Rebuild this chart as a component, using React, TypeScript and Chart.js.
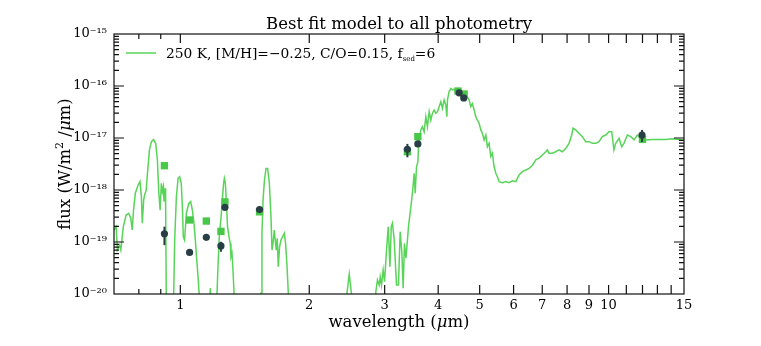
import React, { useEffect, useRef } from 'react';
import { Chart, registerables } from 'chart.js';
Chart.register(...registerables);

// Model spectrum (wavelength in µm, flux in W/m²/µm)
const modelWave = [
  0.700, 0.708, 0.713, 0.721, 0.726, 0.736, 0.747, 0.758, 0.766, 0.772, 0.777, 0.785, 0.797, 0.805, 0.811, 0.815,
  0.821, 0.825, 0.832, 0.838, 0.847, 0.856, 0.866, 0.876, 0.884, 0.890, 0.897, 0.903, 0.908, 0.913, 0.916, 0.921,
  0.924, 0.931, 0.945, 0.960, 0.970, 0.979, 0.988, 0.996, 1.005, 1.011, 1.016, 1.023, 1.033, 1.046, 1.057, 1.067,
  1.076, 1.084, 1.091, 1.100, 1.106, 1.115, 1.160, 1.169, 1.175, 1.181, 1.200, 1.210, 1.218, 1.226, 1.233, 1.245,
  1.253, 1.262, 1.267, 1.274, 1.280, 1.289, 1.299, 1.308, 1.313, 1.320, 1.327, 1.335, 1.345, 1.530, 1.543, 1.551,
  1.560, 1.572, 1.585, 1.599, 1.614, 1.628, 1.637, 1.646, 1.657, 1.666, 1.675, 1.684, 1.693, 1.705, 1.718, 1.733,
  1.749, 1.761, 1.775, 1.787, 1.802, 2.413, 2.448, 2.480, 2.510, 2.547, 2.836, 2.861, 2.886, 2.913, 2.929, 2.949,
  2.976, 2.998, 3.030, 3.058, 3.086, 3.108, 3.129, 3.158, 3.197, 3.231, 3.261, 3.291, 3.314, 3.337, 3.363, 3.391,
  3.410, 3.454, 3.483, 3.516, 3.535, 3.560, 3.587, 3.598, 3.611, 3.644, 3.675, 3.709, 3.743, 3.776, 3.811, 3.845,
  3.879, 3.914, 3.950, 3.984, 4.021, 4.058, 4.093, 4.130, 4.168, 4.191, 4.205, 4.243, 4.282, 4.319, 4.359, 4.399,
  4.436, 4.517, 4.598, 4.680, 4.723, 4.766, 4.808, 4.853, 4.897, 4.940, 4.985, 5.031, 5.074, 5.121, 5.168, 5.212,
  5.260, 5.308, 5.355, 5.403, 5.453, 5.500, 5.551, 5.649, 5.754, 5.857, 5.962, 6.071, 6.180, 6.291, 6.407, 6.522,
  6.639, 6.761, 6.882, 7.005, 7.134, 7.194, 7.259, 7.390, 7.525, 7.660, 7.798, 7.941, 8.084, 8.202, 8.259, 8.380,
  8.530, 8.683, 8.843, 9.002, 9.163, 9.331, 9.498, 9.668, 9.845, 10.02, 10.17, 10.29, 10.39, 10.58, 10.73, 10.86,
  11.06, 11.27, 11.47, 11.67, 11.89, 12.21, 12.65, 13.11, 13.59, 14.08, 14.60, 15.13,
];
const modelFlux = [
  1.70e-19, 1.97e-19, 7.0e-20, 8.7e-20, 7.0e-20, 1.97e-19, 3.3e-19, 3.56e-19, 2.86e-19, 1.70e-19, 3.83e-19, 8.65e-19, 1.25e-18, 1.45e-18, 7.4e-19, 2.3e-19,
  6.4e-19, 8.0e-19, 9.7e-19, 2.1e-18, 5.9e-18, 8.5e-18, 9.4e-18, 7.9e-18, 3.8e-18, 1.0e-18, 4.1e-19, 1.35e-18, 9.3e-19, 1.16e-18, 6.0e-19, 1.08e-18,
  4.8e-19, 1e-22, 1e-22, 1e-21, 1.09e-19, 7.4e-19, 1.68e-18, 1.8e-18, 1.35e-18, 4.8e-19, 1.26e-19, 1.09e-19, 3.56e-19, 5.5e-19, 6.0e-19, 4.1e-19,
  2.3e-19, 1.09e-19, 5.2e-20, 2.15e-20, 1.05e-20, 1e-22, 1e-22, 5e-21, 1.3e-20, 5e-21, 1e-22, 1e-21, 1.04e-20, 4.5e-20, 1.26e-19, 3.07e-19,
  6.4e-19, 1.35e-18, 1.68e-18, 1.35e-18, 6.4e-19, 1.97e-19, 1.26e-19, 9.4e-20, 5.2e-20, 6.1e-20, 2.9e-20, 1.04e-20, 1e-22, 1e-22, 1.04e-20, 1.47e-19,
  6.4e-19, 1.56e-18, 2.6e-18, 2.6e-18, 1.35e-18, 3.07e-19, 7.0e-20, 9.4e-20, 1.70e-19, 1.09e-19, 7.0e-20, 1.18e-19, 3.35e-20, 8.1e-20, 1.09e-19, 1.26e-19,
  1.47e-19, 9.4e-20, 3.35e-20, 1.04e-20, 1e-22, 1e-22, 1.0e-20, 2.4e-20, 1.0e-20, 1e-22, 1e-22, 1.1e-20, 1.86e-20, 1.49e-20, 2.15e-20, 1.49e-20,
  2.9e-20, 1.73e-20, 7.0e-20, 1.97e-19, 3.35e-20, 1.97e-19, 2.3e-19, 1.09e-19, 1.49e-20, 1.49e-20, 1.58e-19, 6.1e-20, 1.29e-20, 9.4e-20, 4.9e-20, 1.09e-19,
  1.97e-19, 4.8e-19, 8.65e-19, 2.1e-18, 8.65e-19, 2.8e-18, 3.5e-18, 6.8e-18, 9.2e-18, 1.43e-17, 1.65e-17, 1.32e-17, 2.57e-17, 1.65e-17, 3.2e-17, 2.2e-17,
  3.0e-17, 3.45e-17, 3.0e-17, 3.2e-17, 4.0e-17, 5.0e-17, 3.7e-17, 5.4e-17, 4.3e-17, 2.57e-17, 5.4e-17, 7.8e-17, 9.0e-17, 8.4e-17, 8.65e-17, 7.8e-17,
  7.2e-17, 7.2e-17, 6.7e-17, 6.2e-17, 5.4e-17, 4.0e-17, 4.6e-17, 3.45e-17, 2.57e-17, 2.2e-17, 1.92e-17, 1.43e-17, 1.23e-17, 9.2e-18, 1.14e-17, 6.8e-18,
  7.9e-18, 4.4e-18, 5.1e-18, 2.8e-18, 2.1e-18, 1.8e-18, 1.45e-18, 1.38e-18, 1.45e-18, 1.38e-18, 1.51e-18, 1.45e-18, 1.94e-18, 2.25e-18, 2.43e-18, 2.6e-18,
  3.0e-18, 3.8e-18, 4.1e-18, 4.7e-18, 5.45e-18, 5.9e-18, 5.1e-18, 5.1e-18, 5.45e-18, 5.9e-18, 5.45e-18, 6.3e-18, 7.9e-18, 1.14e-17, 1.54e-17, 1.43e-17,
  1.23e-17, 1.06e-17, 8.5e-18, 8.5e-18, 7.9e-18, 7.9e-18, 8.5e-18, 1.06e-17, 1.14e-17, 1.32e-17, 1.32e-17, 5.9e-18, 7.9e-18, 9.9e-18, 6.8e-18, 7.9e-18,
  1.14e-17, 1.06e-17, 9.2e-18, 1.14e-17, 9.9e-18, 9.2e-18, 9.4e-18, 9.4e-18, 9.4e-18, 9.7e-18, 9.4e-18, 8.9e-18,
];

// Model photometry (green squares)
const synthWave = [0.918, 1.051, 1.150, 1.244, 1.271, 1.531, 3.39, 3.586, 4.45, 4.60, 12.0];
const synthFlux = [2.93e-18, 2.65e-19, 2.53e-19, 1.6e-19, 5.9e-19, 3.8e-19, 5.45e-18, 1.06e-17, 8.0e-17, 7.0e-17, 9.4e-18];

// Observed photometry (dark circles with error bars)
const obsWave = [0.918, 1.051, 1.150, 1.244, 1.271, 1.531, 3.39, 3.586, 4.477, 4.59, 11.97];
const obsFlux = [1.44e-19, 6.3e-20, 1.23e-19, 8.4e-20, 4.65e-19, 4.2e-19, 6.05e-18, 7.7e-18, 7.4e-17, 5.9e-17, 1.14e-17];
const obsErrLow = [8.7e-20, 6.0e-20, 1.18e-19, 6.5e-20, 4.5e-19, 4.05e-19, 4.25e-18, 7.4e-18, 7.2e-17, 5.7e-17, 8.4e-18];
const obsErrHigh = [1.97e-19, 6.6e-20, 1.28e-19, 1.01e-19, 4.8e-19, 4.35e-19, 7.7e-18, 8.0e-18, 7.6e-17, 6.1e-17, 1.43e-17];

// Axis ticks
const xTickValues = [0.7, 0.8, 0.9, 1, 2, 3, 4, 5, 6, 7, 8, 9, 10, 11, 12, 13, 14, 15];
const xTickLabels = ['', '', '', '1', '2', '3', '4', '5', '6', '7', '8', '9', '10', '', '', '', '', '15'];
const yTickValues = [1e-20, 1e-19, 1e-18, 1e-17, 1e-16, 1e-15];
const yTickLabels = ['10⁻²⁰', '10⁻¹⁹', '10⁻¹⁸', '10⁻¹⁷', '10⁻¹⁶', '10⁻¹⁵'];

const titleText = 'Best fit model to all photometry';
const legendMain = '250 K, [M/H]=\u22120.25, C/O=0.15, f';
const legendSub = 'sed';
const legendEnd = '=6';

const LINE_GREEN = 'rgb(88,212,88)';
const SQUARE_GREEN = 'rgb(72,200,72)';
const DARK = '#283f45';
const SERIF = '"DejaVu Serif", serif';

const decor = {
  id: 'decor',
  afterDatasetsDraw(chart: any) {
    const ctx = chart.ctx;
    const xs = chart.scales.x;
    const ys = chart.scales.y;
    ctx.save();
    ctx.strokeStyle = DARK;
    ctx.lineWidth = 2;
    for (let i = 0; i < obsWave.length; i++) {
      const x = xs.getPixelForValue(obsWave[i]);
      ctx.beginPath();
      ctx.moveTo(x, ys.getPixelForValue(obsErrHigh[i]));
      ctx.lineTo(x, ys.getPixelForValue(obsErrLow[i]));
      ctx.stroke();
    }
    ctx.restore();
  },
  afterDraw(chart: any) {
    const ctx = chart.ctx;
    const xs = chart.scales.x;
    const ys = chart.scales.y;
    const { left, right, top, bottom } = chart.chartArea;
    ctx.save();
    // frame
    ctx.strokeStyle = '#111';
    ctx.lineWidth = 1.2;
    ctx.strokeRect(left, top, right - left, bottom - top);
    // x ticks
    for (const v of xTickValues) {
      const x = xs.getPixelForValue(v);
      if (x <= left + 1 || x >= right - 1) continue;
      const len = v < 1 ? 5 : 9;
      ctx.beginPath();
      ctx.moveTo(x, bottom); ctx.lineTo(x, bottom - len);
      ctx.moveTo(x, top); ctx.lineTo(x, top + len);
      ctx.stroke();
    }
    // y ticks
    for (let d = -20; d <= -15; d++) {
      for (let m = 1; m <= 9; m++) {
        const v = m * Math.pow(10, d);
        if (v > 1.0001e-15) break;
        const y = ys.getPixelForValue(v);
        const len = m === 1 ? 10 : 5;
        if (y <= top + 0.5 || y >= bottom - 0.5) continue;
        ctx.beginPath();
        ctx.moveTo(left, y); ctx.lineTo(left + len, y);
        ctx.moveTo(right, y); ctx.lineTo(right - len, y);
        ctx.stroke();
      }
    }
    // title
    ctx.fillStyle = '#000';
    ctx.font = '16.5px ' + SERIF;
    ctx.textAlign = 'center';
    ctx.textBaseline = 'alphabetic';
    ctx.fillText(titleText, (left + right) / 2, 29);
    // x label
    const cx = (left + right) / 2;
    const f1 = '16.5px ' + SERIF;
    const fi = 'italic 16.5px ' + SERIF;
    ctx.textAlign = 'left';
    ctx.font = f1; const wA = ctx.measureText('wavelength (').width;
    ctx.font = fi; const wB = ctx.measureText('\u03bc').width;
    ctx.font = f1; const wC = ctx.measureText('m)').width;
    let sx = cx - (wA + wB + wC) / 2;
    const by = 327;
    ctx.font = f1; ctx.fillText('wavelength (', sx, by); sx += wA;
    ctx.font = fi; ctx.fillText('\u03bc', sx, by); sx += wB;
    ctx.font = f1; ctx.fillText('m)', sx, by);
    // y label (rotated)
    ctx.save();
    ctx.translate(70, (top + bottom) / 2);
    ctx.rotate(-Math.PI / 2);
    const fs = '11px ' + SERIF;
    ctx.font = f1; const p1 = ctx.measureText('flux (W/m').width;
    ctx.font = fs; const p2 = ctx.measureText('2').width;
    ctx.font = f1; const p3 = ctx.measureText(' /').width;
    ctx.font = fi; const p4 = ctx.measureText('\u03bc').width;
    ctx.font = f1; const p5 = ctx.measureText('m)').width;
    let tx = -(p1 + p2 + p3 + p4 + p5) / 2;
    ctx.font = f1; ctx.fillText('flux (W/m', tx, 0); tx += p1;
    ctx.font = fs; ctx.fillText('2', tx, -7); tx += p2;
    ctx.font = f1; ctx.fillText(' /', tx, 0); tx += p3;
    ctx.font = fi; ctx.fillText('\u03bc', tx, 0); tx += p4;
    ctx.font = f1; ctx.fillText('m)', tx, 0);
    ctx.restore();
    // legend
    ctx.strokeStyle = LINE_GREEN;
    ctx.lineWidth = 1.5;
    ctx.beginPath();
    ctx.moveTo(126, 53); ctx.lineTo(156, 53);
    ctx.stroke();
    ctx.fillStyle = '#000';
    ctx.textAlign = 'left';
    ctx.font = '13.8px ' + SERIF;
    let lx = 166;
    ctx.fillText(legendMain, lx, 58);
    lx += ctx.measureText(legendMain).width;
    ctx.font = '7px ' + SERIF;
    ctx.fillText(legendSub, lx, 61);
    lx += ctx.measureText(legendSub).width;
    ctx.font = '13.8px ' + SERIF;
    ctx.fillText(legendEnd, lx, 58);
    ctx.restore();
  },
};

export default function App() {
  const ref = useRef<HTMLCanvasElement | null>(null);
  useEffect(() => {
    if (!ref.current) return;
    const chart = new Chart(ref.current, {
      type: 'scatter',
      data: {
        datasets: [
          {
            label: 'observed',
            data: obsWave.map((w, i) => ({ x: w, y: obsFlux[i] })),
            pointStyle: 'circle',
            pointRadius: 3.6,
            backgroundColor: DARK,
            borderColor: DARK,
            borderWidth: 0,
          },
          {
            label: 'model photometry',
            data: synthWave.map((w, i) => ({ x: w, y: synthFlux[i] })),
            pointStyle: 'rect',
            pointRadius: 5.2,
            backgroundColor: SQUARE_GREEN,
            borderColor: SQUARE_GREEN,
            borderWidth: 0,
          },
          {
            label: '250 K model',
            data: modelWave.map((w, i) => ({ x: w, y: modelFlux[i] })),
            showLine: true,
            pointRadius: 0,
            borderColor: LINE_GREEN,
            borderWidth: 1.5,
            backgroundColor: LINE_GREEN,
            tension: 0,
          },
        ],
      },
      options: {
        animation: false,
        responsive: false,
        devicePixelRatio: 1,
        layout: { padding: { left: 0, right: 77, top: 34, bottom: 0 } },
        plugins: { legend: { display: false }, tooltip: { enabled: false }, title: { display: false } },
        scales: {
          x: {
            type: 'logarithmic',
            min: 0.7,
            max: 15,
            grid: { display: false, drawTicks: false },
            border: { display: false },
            afterBuildTicks: (scale: any) => {
              scale.ticks = xTickValues.map((v) => ({ value: v }));
            },
            afterFit: (scale: any) => {
              scale.height = 52;
            },
            ticks: {
              autoSkip: false,
              maxRotation: 0,
              padding: 4,
              color: '#000',
              font: { family: SERIF, size: 13 },
              callback: (value: any) => {
                const i = xTickValues.indexOf(Number(value));
                return i >= 0 ? xTickLabels[i] : '';
              },
            },
          },
          y: {
            type: 'logarithmic',
            min: 1e-20,
            max: 1e-15,
            grid: { display: false, drawTicks: false },
            border: { display: false },
            afterBuildTicks: (scale: any) => {
              scale.ticks = yTickValues.map((v) => ({ value: v }));
            },
            afterFit: (scale: any) => {
              scale.width = 114;
            },
            ticks: {
              autoSkip: false,
              padding: 7,
              color: '#000',
              font: { family: SERIF, size: 13 },
              callback: (value: any) => {
                const v = Number(value);
                const i = yTickValues.findIndex((t) => Math.abs(Math.log10(t) - Math.log10(v)) < 1e-6);
                return i >= 0 ? yTickLabels[i] : '';
              },
            },
          },
        },
      },
      plugins: [decor],
    } as any);
    return () => chart.destroy();
  }, []);
  return (
    <div style={{ position: 'fixed', left: 0, top: 0, width: 761, height: 346, background: '#fff' }}>
      <canvas ref={ref} width={761} height={346} style={{ width: 761, height: 346 }} />
    </div>
  );
}
